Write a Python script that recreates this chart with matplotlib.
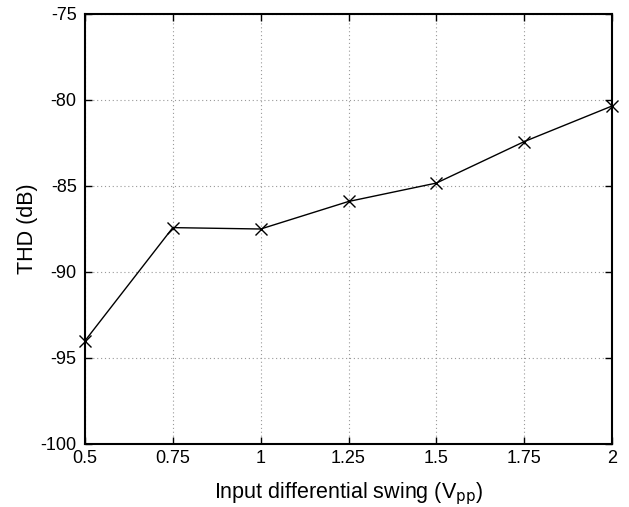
import matplotlib
matplotlib.use("Agg")
import matplotlib.pyplot as plt

swing = [0.5, 0.75, 1.0, 1.25, 1.5, 1.75, 2.0]
thd = [-94.0, -87.42, -87.5, -85.9, -84.83, -82.42, -80.35]
xticks = [0.5, 0.75, 1.0, 1.25, 1.5, 1.75, 2.0]
xticklabels = ["0.5", "0.75", "1", "1.25", "1.5", "1.75", "2"]
yticks = [-100, -95, -90, -85, -80, -75]

plt.rcParams['font.family'] = ['Liberation Sans', 'DejaVu Sans']
plt.rcParams['axes.unicode_minus'] = False
fig = plt.figure(figsize=(6.29, 5.07), dpi=100)
ax = fig.add_axes([85/629, 1 - 444/507, (612 - 85)/629, (444 - 14)/507])
ax.plot(swing, thd, color='black', linewidth=1.0, marker='x', markersize=8,
        markeredgewidth=1.0, clip_on=False, zorder=3)
ax.set_xlim(0.5, 2.0)
ax.set_ylim(-100, -75)
ax.set_xticks(xticks)
ax.set_xticklabels(xticklabels)
ax.set_yticks(yticks)
ax.grid(True, linestyle=(0, (1, 2.5)), color='#999999', linewidth=0.8)
ax.tick_params(direction='in', top=True, right=True, length=5, width=1.0,
               labelsize=13, pad=4)
ax.tick_params(axis='y', pad=6)
for s in ax.spines.values():
    s.set_linewidth(1.5)
ax.set_xlabel('Input differential swing (V$_{\\mathrm{pp}}$)', fontsize=15.5, labelpad=10)
ax.set_ylabel('THD (dB)', fontsize=15.5, labelpad=2)
fig.savefig('out.png', dpi=100)
